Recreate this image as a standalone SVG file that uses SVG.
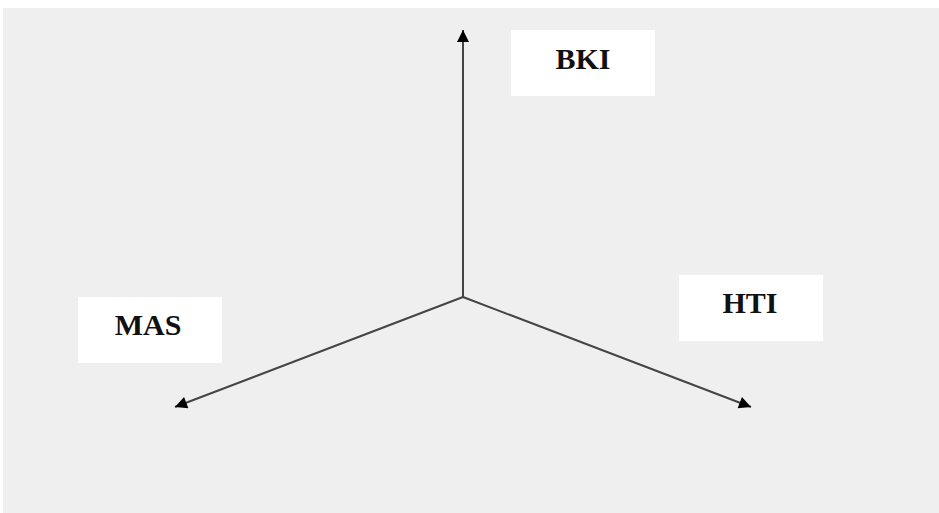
<svg xmlns="http://www.w3.org/2000/svg" width="939" height="513" viewBox="0 0 939 513">
<style>
.box{fill:#ffffff}
.lbl{font-family:"Liberation Serif","Times New Roman",serif;font-size:30px;font-weight:bold;fill:#111;text-anchor:middle}
.ax{stroke:#444;stroke-width:2;fill:none;marker-end:url(#ah)}
</style>
<defs>
<marker id="ah" viewBox="0 0 10 10" refX="10" refY="5" markerWidth="15" markerHeight="12" markerUnits="userSpaceOnUse" orient="auto">
<path d="M0,0 L10,5 L0,10 Z" fill="#000"/>
</marker>
</defs>
<rect x="0" y="0" width="939" height="513" fill="#ffffff"/>
<rect x="3" y="8" width="936" height="505" fill="#efefef"/>
<g id="connectors">
<line class="ax" x1="463" y1="297" x2="463" y2="30"/>
<line class="ax" x1="463" y1="297" x2="175" y2="407"/>
<line class="ax" x1="463" y1="297" x2="751" y2="407"/>
</g>
<g id="BKI">
<rect class="box" x="511" y="30" width="144" height="66"/>
<text class="lbl" x="583" y="69">BKI</text>
</g>
<g id="HTI">
<rect class="box" x="679" y="275" width="144" height="66"/>
<text class="lbl" x="750" y="313">HTI</text>
</g>
<g id="MAS">
<rect class="box" x="78" y="297" width="144" height="66"/>
<text class="lbl" x="148" y="335">MAS</text>
</g>
</svg>
